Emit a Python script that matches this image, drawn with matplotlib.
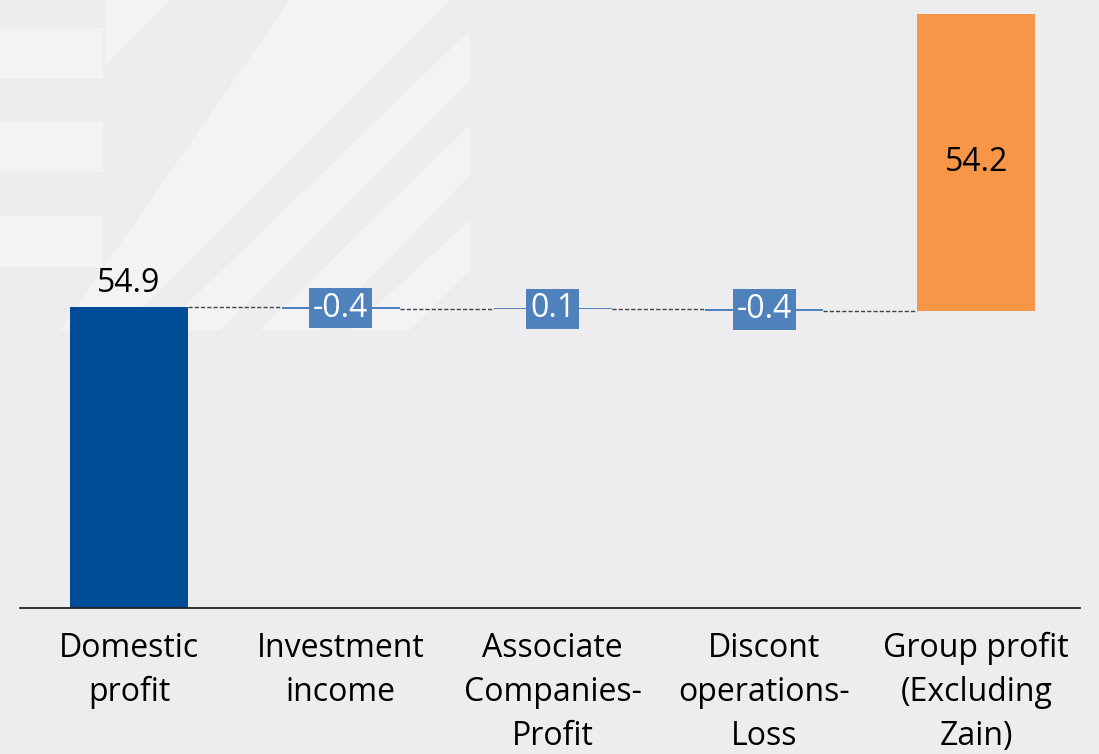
import numpy as np
import matplotlib.pyplot as plt
from matplotlib.patches import Polygon

# categories and values
categories = ["Domestic\nprofit", "Investment\nincome", "Associate\nCompanies-\nProfit",
              "Discont\noperations-\nLoss", "Group profit\n(Excluding\nZain)"]
changes = [54.9, -0.4, 0.1, -0.4]
total = 54.2
labels = ["54.9", "-0.4", "0.1", "-0.4", "54.2"]

plt.rcParams['font.family'] = ['Open Sans', 'DejaVu Sans']

fig = plt.figure(figsize=(10.99, 7.54), dpi=100)
fig.patch.set_facecolor("#ededf0")

# faint background decoration
light = "#f3f3f5"
W, H = 1099, 754
def fpoly(pts):
    pts = [(x / W, 1 - y / H) for x, y in pts]
    fig.patches.append(Polygon(pts, closed=True, transform=fig.transFigure,
                               facecolor=light, edgecolor="none", zorder=-5))
for y0, y1 in [(28, 79), (122, 172), (216, 267)]:
    fpoly([(0, y0), (103, y0), (103, y1), (0, y1)])
fpoly([(105, 0), (170, 0), (105, 66)])
fpoly([(290, 0), (450, 0), (450, 0), (120, 330), (60, 330)])
fpoly([(470, 30), (470, 80), (220, 330), (160, 330)])
fpoly([(470, 125), (470, 175), (320, 330), (260, 330)])
fpoly([(470, 220), (470, 270), (410, 330), (350, 330)])

ax = fig.add_axes([20 / W, 1 - 608 / H, 1060 / W, 608 / H])
ax.set_facecolor("none")

x = np.arange(len(categories))
width = 0.557

# waterfall positions
levels = np.concatenate([[0], np.cumsum(changes)])
starts = levels[:-1]
ends = levels[1:]

# first bar (absolute)
ax.bar(x[0], changes[0], width=width, color="#004c97", zorder=2)
# intermediate changes
for i in range(1, len(changes)):
    lo = min(starts[i], ends[i])
    h = max(abs(changes[i]), 0.25)
    ax.bar(x[i], h, bottom=lo, width=width, color="#4f81bd", zorder=2)
# total bar (floating, as in the source)
ax.bar(x[4], total, bottom=total, width=width, color="#f79646", zorder=2)

# connectors
for i in range(len(categories) - 1):
    ax.plot([x[i] + width / 2, x[i + 1] - width / 2], [ends[i], ends[i]],
            color="#444444", lw=1.0, ls=(0, (3, 1.5)), zorder=1)

fs = 23
ax.text(x[0], changes[0] + 1.3, labels[0], ha="center", va="bottom", fontsize=fs, color="black")
for i in range(1, 4):
    ax.text(x[i], (starts[i] + ends[i]) / 2, labels[i], ha="center", va="center",
            fontsize=fs, color="white", zorder=3,
            bbox=dict(boxstyle="square,pad=0.12", facecolor="#4f81bd", edgecolor="none"))
ax.text(x[4], total * 1.5, labels[4], ha="center", va="center", fontsize=fs, color="black")

ax.set_xlim(-0.514, 4.49)
ax.set_ylim(0, 110.9)
ax.set_xticks(x)
ax.set_xticklabels(categories, fontsize=fs, linespacing=1.45)
ax.tick_params(axis="x", length=0, pad=17)
ax.set_yticks([])
for s in ["top", "right", "left"]:
    ax.spines[s].set_visible(False)
ax.spines["bottom"].set_color("#222222")
ax.spines["bottom"].set_linewidth(1.3)

fig.savefig("out.png", dpi=100, facecolor=fig.get_facecolor())
